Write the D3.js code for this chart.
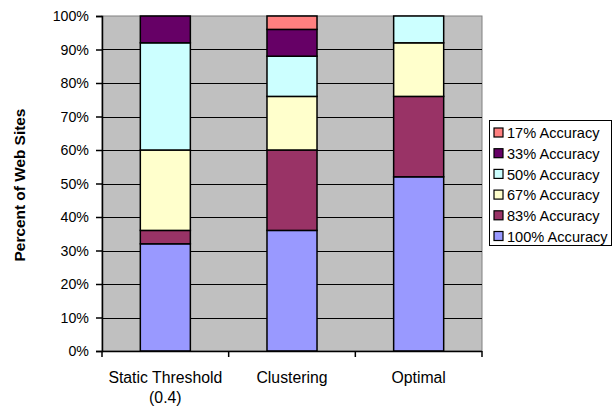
<!DOCTYPE html>
<html>
<head>
<meta charset="utf-8">
<script src="https://cdn.jsdelivr.net/npm/d3@7"></script>
<style>
  html, body { margin: 0; padding: 0; background: #fff; }
  svg { display: block; font-family: Arial, "Liberation Sans", sans-serif; }
</style>
</head>
<body>
<svg id="chart" width="613" height="409"></svg>
<script>
// Stacked share of web sites by prediction accuracy, per method
const categories = ["Static Threshold\n(0.4)", "Clustering", "Optimal"];
const seriesNames = ["100% Accuracy", "83% Accuracy", "67% Accuracy", "50% Accuracy", "33% Accuracy", "17% Accuracy"];
const acc100 = [32, 36, 52];
const acc83 = [4, 24, 24];
const acc67 = [24, 16, 16];
const acc50 = [32, 12, 8];
const acc33 = [8, 8, 0];
const acc17 = [0, 4, 0];
const yTicks = [0, 10, 20, 30, 40, 50, 60, 70, 80, 90, 100];
const colors = ["#9999FF", "#993366", "#FFFFCC", "#CCFFFF", "#660066", "#FF8080"];

const seriesValues = [acc100, acc83, acc67, acc50, acc33, acc17];
const rows = categories.map((c, i) => {
  const r = { cat: c };
  seriesNames.forEach((s, k) => { r[s] = seriesValues[k][i]; });
  return r;
});
const stacked = d3.stack().keys(seriesNames)(rows);

const svg = d3.select("#chart");
const m = { left: 102, right: 482, top: 16, bottom: 351 };

const x = d3.scaleBand().domain(categories).range([m.left, m.right]).paddingInner(0.605).paddingOuter(0.3025);
const y = d3.scaleLinear().domain([0, 100]).range([m.bottom, m.top]);

// plot background
svg.append("rect")
  .attr("x", m.left).attr("y", m.top)
  .attr("width", m.right - m.left).attr("height", m.bottom - m.top)
  .attr("fill", "#C0C0C0").attr("stroke", "#808080").attr("stroke-width", 1);

// horizontal gridlines
svg.append("g").selectAll("line").data(yTicks.filter(t => t > 0 && t < 100)).join("line")
  .attr("x1", m.left).attr("x2", m.right)
  .attr("y1", d => Math.round(y(d)) + 0.5).attr("y2", d => Math.round(y(d)) + 0.5)
  .attr("stroke", "#000").attr("stroke-width", 1);

// stacked bars
svg.append("g").selectAll("g").data(stacked).join("g")
  .attr("fill", (d, i) => colors[i])
  .selectAll("rect").data(d => d.filter(p => p[1] - p[0] > 0)).join("rect")
  .attr("x", d => x(d.data.cat))
  .attr("width", x.bandwidth())
  .attr("y", d => y(d[1]))
  .attr("height", d => y(d[0]) - y(d[1]))
  .attr("stroke", "#000").attr("stroke-width", 1.5);

// y axis
const yAxis = d3.axisLeft(y).tickValues(yTicks).tickFormat(d => d + "%").tickSize(6).tickPadding(7);
const gy = svg.append("g").attr("transform", `translate(${m.left},0)`).call(yAxis);
gy.select(".domain").attr("stroke", "#000").attr("stroke-width", 1.5);
gy.selectAll(".tick line").attr("stroke", "#000").attr("stroke-width", 1.5);
gy.selectAll(".tick text").attr("font-size", 14.2).attr("fill", "#000")
  .attr("font-family", "Arial, 'Liberation Sans', sans-serif");

// x axis with ticks on band boundaries
const gx = svg.append("g").attr("transform", `translate(0,${m.bottom})`);
gx.append("line").attr("x1", m.left).attr("x2", m.right).attr("y1", 0.5).attr("y2", 0.5)
  .attr("stroke", "#000").attr("stroke-width", 1.5);
const step = (m.right - m.left) / categories.length;
gx.selectAll("line.tk").data(d3.range(categories.length + 1)).join("line").attr("class", "tk")
  .attr("x1", i => m.left + i * step).attr("x2", i => m.left + i * step)
  .attr("y1", 0).attr("y2", 6).attr("stroke", "#000").attr("stroke-width", 1.5);
gx.selectAll("text").data(categories).join("text")
  .attr("text-anchor", "middle")
  .attr("font-size", 15.8).attr("fill", "#000")
  .attr("transform", d => `translate(${x(d) + x.bandwidth() / 2},32)`)
  .each(function (d) {
    d.split("\n").forEach((line, i) => {
      d3.select(this).append("tspan").attr("x", 0).attr("dy", i === 0 ? 0 : 19.5).text(line);
    });
  });

// y axis title
svg.append("text")
  .attr("transform", `translate(24.5,${(m.top + m.bottom) / 2 + 1.5}) rotate(-90)`)
  .attr("text-anchor", "middle")
  .attr("font-size", 15.4).attr("font-weight", "bold").attr("fill", "#000")
  .text("Percent of Web Sites");

// legend (reverse order: top item is last series)
const lg = svg.append("g").attr("transform", "translate(489,120)");
lg.append("rect").attr("x", 0.5).attr("y", 0.5).attr("width", 122).attr("height", 125)
  .attr("fill", "#fff").attr("stroke", "#000").attr("stroke-width", 1);
const legendItems = seriesNames.map((s, i) => ({ s, c: colors[i] })).reverse();
const li = lg.selectAll("g").data(legendItems).join("g")
  .attr("transform", (d, i) => `translate(5,${13 + i * 20.7})`);
li.append("rect").attr("x", 0).attr("y", -5).attr("width", 9).attr("height", 9)
  .attr("fill", d => d.c).attr("stroke", "#000").attr("stroke-width", 1.2);
li.append("text").attr("x", 13).attr("y", 0).attr("dy", "0.36em")
  .attr("font-size", 14.6).attr("fill", "#000").text(d => d.s);
</script>
</body>
</html>
